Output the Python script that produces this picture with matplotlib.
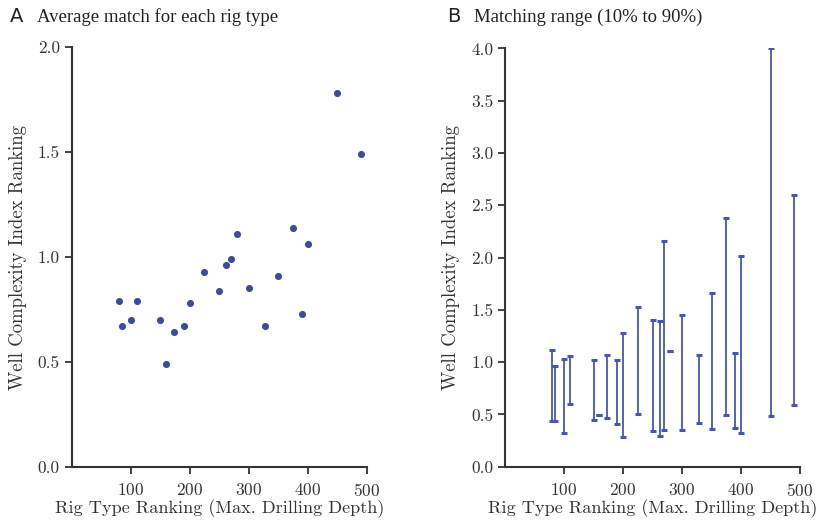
import numpy as np
import matplotlib
matplotlib.use("Agg")
import matplotlib.pyplot as plt

plt.rcParams['font.family'] = 'cmr10'
plt.rcParams['axes.formatter.use_mathtext'] = True

# rig type ranking (x) and average match (y)
rig_rank = [80, 85, 100, 110, 150, 160, 173, 190, 200, 225, 250,
            262, 270, 280, 300, 328, 350, 375, 390, 400, 450, 490]
avg_match = [0.79, 0.67, 0.70, 0.79, 0.70, 0.49, 0.64, 0.67, 0.78, 0.93, 0.84,
             0.96, 0.99, 1.11, 0.85, 0.67, 0.91, 1.14, 0.73, 1.06, 1.78, 1.49]

# 10% and 90% matching range
low_10 = [0.44, 0.44, 0.32, 0.60, 0.45, 0.49, 0.47, 0.41, 0.28, 0.50, 0.34,
          0.29, 0.35, 1.11, 0.35, 0.42, 0.36, 0.49, 0.37, 0.32, 0.48, 0.59]
high_90 = [1.12, 0.96, 1.03, 1.06, 1.02, 0.49, 1.07, 1.02, 1.28, 1.53, 1.40,
           1.39, 2.16, 1.11, 1.45, 1.07, 1.66, 2.38, 1.09, 2.01, 4.00, 2.60]

dot_col = '#3a4c9e'
bar_col = '#4657b0'
spine_col = '#333333'

fig = plt.figure(figsize=(8.18, 5.2), dpi=100)
ax1 = fig.add_axes([0.0875, 0.1025, 0.361, 0.8065])
ax2 = fig.add_axes([0.6174, 0.1025, 0.3606, 0.8045])

ax1.scatter(rig_rank, avg_match, s=26, color=dot_col, zorder=3, linewidths=0)
ax1.set_xlim(0, 500)
ax1.set_ylim(0, 2.0)
ax1.set_xticks([100, 200, 300, 400, 500])
ax1.set_yticks([0.0, 0.5, 1.0, 1.5, 2.0])

lo = np.array(low_10)
hi = np.array(high_90)
ax2.errorbar(rig_rank, lo, yerr=[np.zeros_like(lo), hi - lo], fmt='none',
             ecolor=bar_col, elinewidth=1.3, capsize=2.3, capthick=2.2)
ax2.set_xlim(0, 500)
ax2.set_ylim(0, 4.0)
ax2.set_xticks([100, 200, 300, 400, 500])
ax2.set_yticks(np.arange(0, 4.01, 0.5))

for ax in (ax1, ax2):
    for s in ('top', 'right'):
        ax.spines[s].set_visible(False)
    for s in ('left', 'bottom'):
        ax.spines[s].set_color(spine_col)
        ax.spines[s].set_linewidth(1.5)
    ax.yaxis.set_major_formatter(matplotlib.ticker.FormatStrFormatter('%.1f'))
    ax.tick_params(axis='both', colors=spine_col, width=1.3, length=5,
                   labelsize=12.5, labelcolor='#333333')
    ax.tick_params(axis='x', pad=6)
    ax.set_xlabel('Rig Type Ranking (Max. Drilling Depth)', fontsize=13.1,
                  color='#333333', labelpad=0)
    ax.set_ylabel('Well Complexity Index Ranking', fontsize=13.5,
                  color='#333333', labelpad=8)

fig.text(0.012, 0.958, 'A', fontsize=14, family='DejaVu Sans', color='#222222')
fig.text(0.045, 0.958, 'Average match for each rig type', fontsize=13.5,
         family='Liberation Serif', color='#222222')
fig.text(0.547, 0.958, 'B', fontsize=14, family='DejaVu Sans', color='#222222')
fig.text(0.58, 0.958, 'Matching range (10% to 90%)', fontsize=13.5,
         family='Liberation Serif', color='#222222')

fig.savefig('out.png', dpi=100)
